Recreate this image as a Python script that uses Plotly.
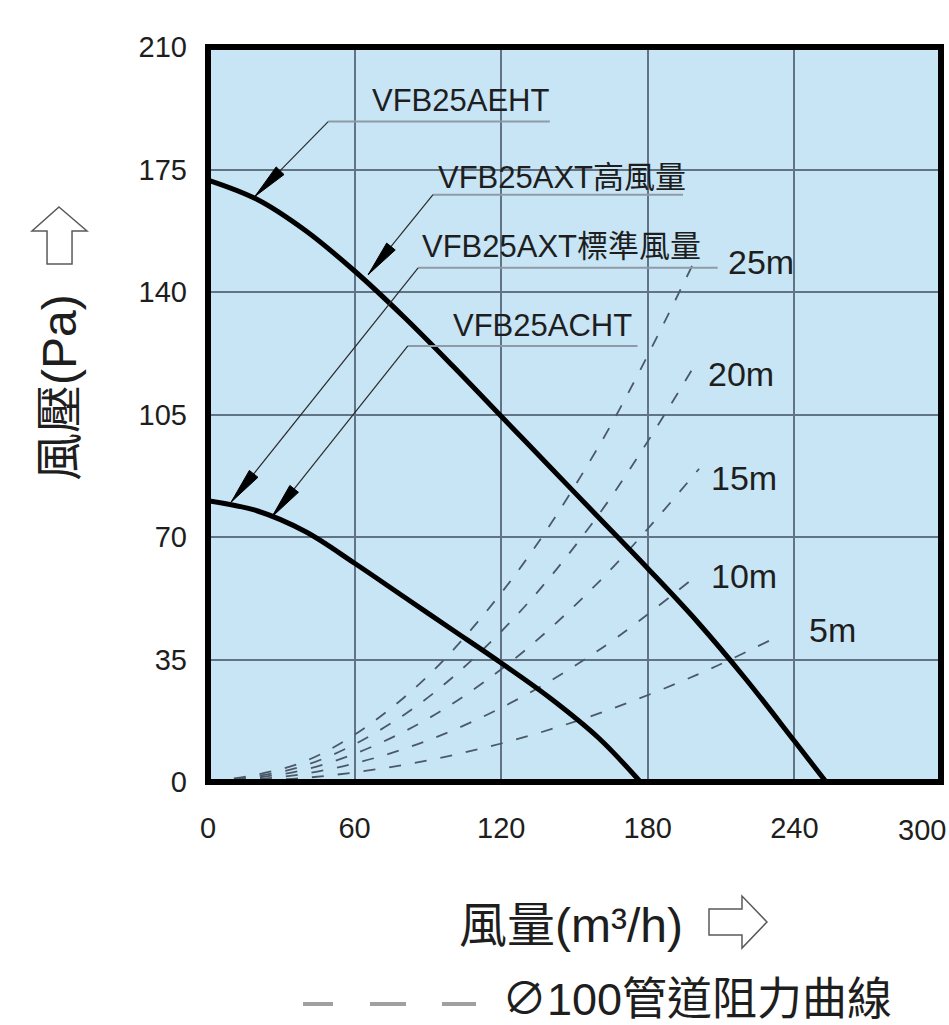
import math
import plotly.graph_objects as go

# ---------------- data ----------------
flow_ticks = [0, 60, 120, 180, 240, 300]
pressure_ticks = [0, 35, 70, 105, 140, 175, 210]

# VFB25AEHT / VFB25AXT high-volume curve
upper_flow = [0, 20, 40, 60, 80, 100, 120, 140, 160, 180, 200, 220, 240, 253]
upper_pressure = [172, 166.5, 157.5, 146, 133, 119, 104.5, 90, 75.5, 61, 46, 29.5, 11.7, 0]

# VFB25AXT standard-volume / VFB25ACHT curve
lower_flow = [0, 20, 40, 60, 80, 100, 120, 140, 160, 177]
lower_pressure = [80.4, 77.5, 71.5, 62.5, 53, 43.5, 34, 24, 12.5, 0]

# ø100 duct resistance curves
duct_names = ["5m", "10m", "15m", "20m", "25m"]
duct_flow_5m = [0, 40, 80, 120, 160, 200, 231.5]
duct_pressure_5m = [0, 1.2, 4.9, 11, 19.6, 30.6, 41]
duct_flow_10m = [0, 40, 80, 120, 160, 200]
duct_pressure_10m = [0, 2.4, 9.4, 21.2, 37.7, 59]
duct_flow_15m = [0, 40, 80, 120, 160, 201]
duct_pressure_15m = [0, 3.6, 14.3, 32.2, 57.2, 89.5]
duct_flow_20m = [0, 40, 80, 120, 160, 200]
duct_pressure_20m = [0, 4.8, 19.1, 43, 76.5, 120]
duct_flow_25m = [0, 40, 80, 120, 160, 198.5]
duct_pressure_25m = [0, 6, 24, 54, 96, 148]
duct_label_flow = [245, 205, 205, 204, 212]
duct_label_pressure = [43.5, 59, 87, 116.5, 148.5]

# model labels: text, text anchor, underline (x0, x1, y), leader tip on curve
model_names = ["VFB25AEHT", "VFB25AXT高風量", "VFB25AXT標準風量", "VFB25ACHT"]
model_text_x = [66.3, 93.5, 86.7, 99.4]
model_text_y = [194.6, 172.6, 153.1, 130.3]
underline_x0 = [49.2, 92.1, 86.0, 81.8]
underline_x1 = [139.9, 194.4, 208.6, 175.8]
underline_y = [188.7, 167.8, 146.9, 124.6]
tip_x = [19.2, 65.6, 9.5, 26.1]
tip_y = [167.3, 145.0, 80.0, 75.7]

# ---------------- layout constants ----------------
W, H = 949, 1025
ML, MR, MT, MB = 208, 8, 47, 243
PW, PH = W - ML - MR, H - MT - MB
SX, SY = PW / 300.0, PH / 210.0

FONT = "Liberation Sans, Arial, Noto Sans CJK TC, sans-serif"
TXT = "#1e1e1e"


def px_x(px):
    return (px - ML) / PW


def px_y(py):
    return (H - MB - py) / PH


fig = go.Figure()

duct_sets = [
    (duct_flow_5m, duct_pressure_5m),
    (duct_flow_10m, duct_pressure_10m),
    (duct_flow_15m, duct_pressure_15m),
    (duct_flow_20m, duct_pressure_20m),
    (duct_flow_25m, duct_pressure_25m),
]
for name, (fx, fy) in zip(duct_names, duct_sets):
    fig.add_trace(go.Scatter(
        x=fx, y=fy, mode="lines", name=name, showlegend=False,
        line=dict(color="#4b5967", width=1.8, dash="12px,14px", shape="spline"),
        hoverinfo="skip"))

for fx, fy in [(upper_flow, upper_pressure), (lower_flow, lower_pressure)]:
    fig.add_trace(go.Scatter(
        x=fx, y=fy, mode="lines", showlegend=False,
        line=dict(color="#000000", width=5, shape="spline", smoothing=1.0),
        hoverinfo="skip"))

shapes = []
annotations = []

# model labels with underline + leader + filled arrow head
for i, name in enumerate(model_names):
    annotations.append(dict(x=model_text_x[i], y=model_text_y[i], xref="x", yref="y",
                            text=name, showarrow=False, xanchor="left", yanchor="middle",
                            font=dict(family=FONT, size=31, color=TXT)))
    shapes.append(dict(type="line", xref="x", yref="y",
                       x0=underline_x0[i], x1=underline_x1[i],
                       y0=underline_y[i], y1=underline_y[i],
                       line=dict(color="#8e9ba6", width=2)))
    tail = (underline_x0[i], underline_y[i])
    tip = (tip_x[i], tip_y[i])
    shapes.append(dict(type="line", xref="x", yref="y",
                       x0=tail[0], y0=tail[1], x1=tip[0], y1=tip[1],
                       line=dict(color="#2a2a2a", width=1.2)))
    dx = (tail[0] - tip[0]) * SX
    dy = (tail[1] - tip[1]) * SY
    L = math.hypot(dx, dy)
    ux, uy = dx / L, dy / L
    length, half = 36, 5.5
    pts = [(0, 0), (ux * length - uy * half, uy * length + ux * half),
           (ux * length + uy * half, uy * length - ux * half)]
    path = "M " + " L ".join(f"{tip[0] + p / SX:.3f},{tip[1] + q / SY:.3f}" for p, q in pts) + " Z"
    shapes.append(dict(type="path", xref="x", yref="y", path=path,
                       fillcolor="#000000", line=dict(color="#000000", width=1)))

for name, lx, ly in zip(duct_names, duct_label_flow, duct_label_pressure):
    annotations.append(dict(x=lx, y=ly, xref="x", yref="y", text=name, showarrow=False,
                            xanchor="left", yanchor="middle",
                            font=dict(family=FONT, size=34, color=TXT)))

# frame
shapes.append(dict(type="rect", xref="paper", yref="paper", x0=0, x1=1, y0=0, y1=1,
                   line=dict(color="#000000", width=6), layer="above"))


def outline_path(points):
    return "M " + " L ".join(f"{px_x(a):.4f},{px_y(b):.4f}" for a, b in points) + " Z"


# outline up arrow (y title) and right arrow (x title)
up_arrow = [(59, 207), (87, 231), (72, 231), (72, 264), (47, 264), (47, 231), (32, 231)]
right_arrow = [(767, 922), (742, 948), (742, 935), (709, 935), (709, 909), (742, 909), (742, 896)]
for pts in (up_arrow, right_arrow):
    shapes.append(dict(type="path", xref="paper", yref="paper", path=outline_path(pts),
                       fillcolor="#ffffff", line=dict(color="#5a5a5a", width=1.5)))

# axis titles
annotations.append(dict(x=px_x(59), y=px_y(388), xref="paper", yref="paper",
                        xanchor="center", yanchor="middle",
                        text="風壓(Pa)", textangle=-90, showarrow=False,
                        font=dict(family=FONT, size=48, color=TXT)))
annotations.append(dict(x=px_x(571), y=px_y(925), xref="paper", yref="paper",
                        xanchor="center", yanchor="middle",
                        text="風量(m³/h)", showarrow=False,
                        font=dict(family=FONT, size=48, color=TXT)))

# x tick label at the right edge (partly outside the page in the reference)
annotations.append(dict(x=px_x(948), y=px_y(830), xref="paper", yref="paper",
                        text=str(flow_ticks[-1]), showarrow=False,
                        xanchor="right", yanchor="middle",
                        font=dict(family=FONT, size=29, color=TXT)))

# legend for duct curves
for x0, x1 in [(303, 333), (370, 406), (442, 476)]:
    shapes.append(dict(type="line", xref="paper", yref="paper",
                       x0=px_x(x0), x1=px_x(x1), y0=px_y(1004), y1=px_y(1004),
                       line=dict(color="#a0a0a0", width=4)))
annotations.append(dict(x=px_x(500), y=px_y(999), xref="paper", yref="paper",
                        xanchor="left", yanchor="middle", text="∅100管道阻力曲線",
                        showarrow=False, font=dict(family=FONT, size=45, color=TXT)))

fig.update_layout(
    width=W, height=H,
    margin=dict(l=ML, r=MR, t=MT, b=MB, pad=0),
    paper_bgcolor="#ffffff",
    plot_bgcolor="#c8e5f6",
    shapes=shapes,
    annotations=annotations,
    showlegend=False,
    font=dict(family=FONT, color=TXT),
)

fig.update_xaxes(range=[0, 300], tickvals=flow_ticks[:-1], showgrid=True,
                 gridcolor="#617384", gridwidth=1.5, zeroline=False, ticks="",
                 showline=False, ticklabelstandoff=26,
                 tickfont=dict(family=FONT, size=29, color=TXT))
fig.update_yaxes(range=[0, 210], tickvals=pressure_ticks, showgrid=True,
                 gridcolor="#617384", gridwidth=1.5, zeroline=False, ticks="",
                 showline=False, ticklabelstandoff=20,
                 tickfont=dict(family=FONT, size=29, color=TXT))

fig.write_html("out.html", config={"displayModeBar": False},
               post_script="document.body.style.margin='0';")
